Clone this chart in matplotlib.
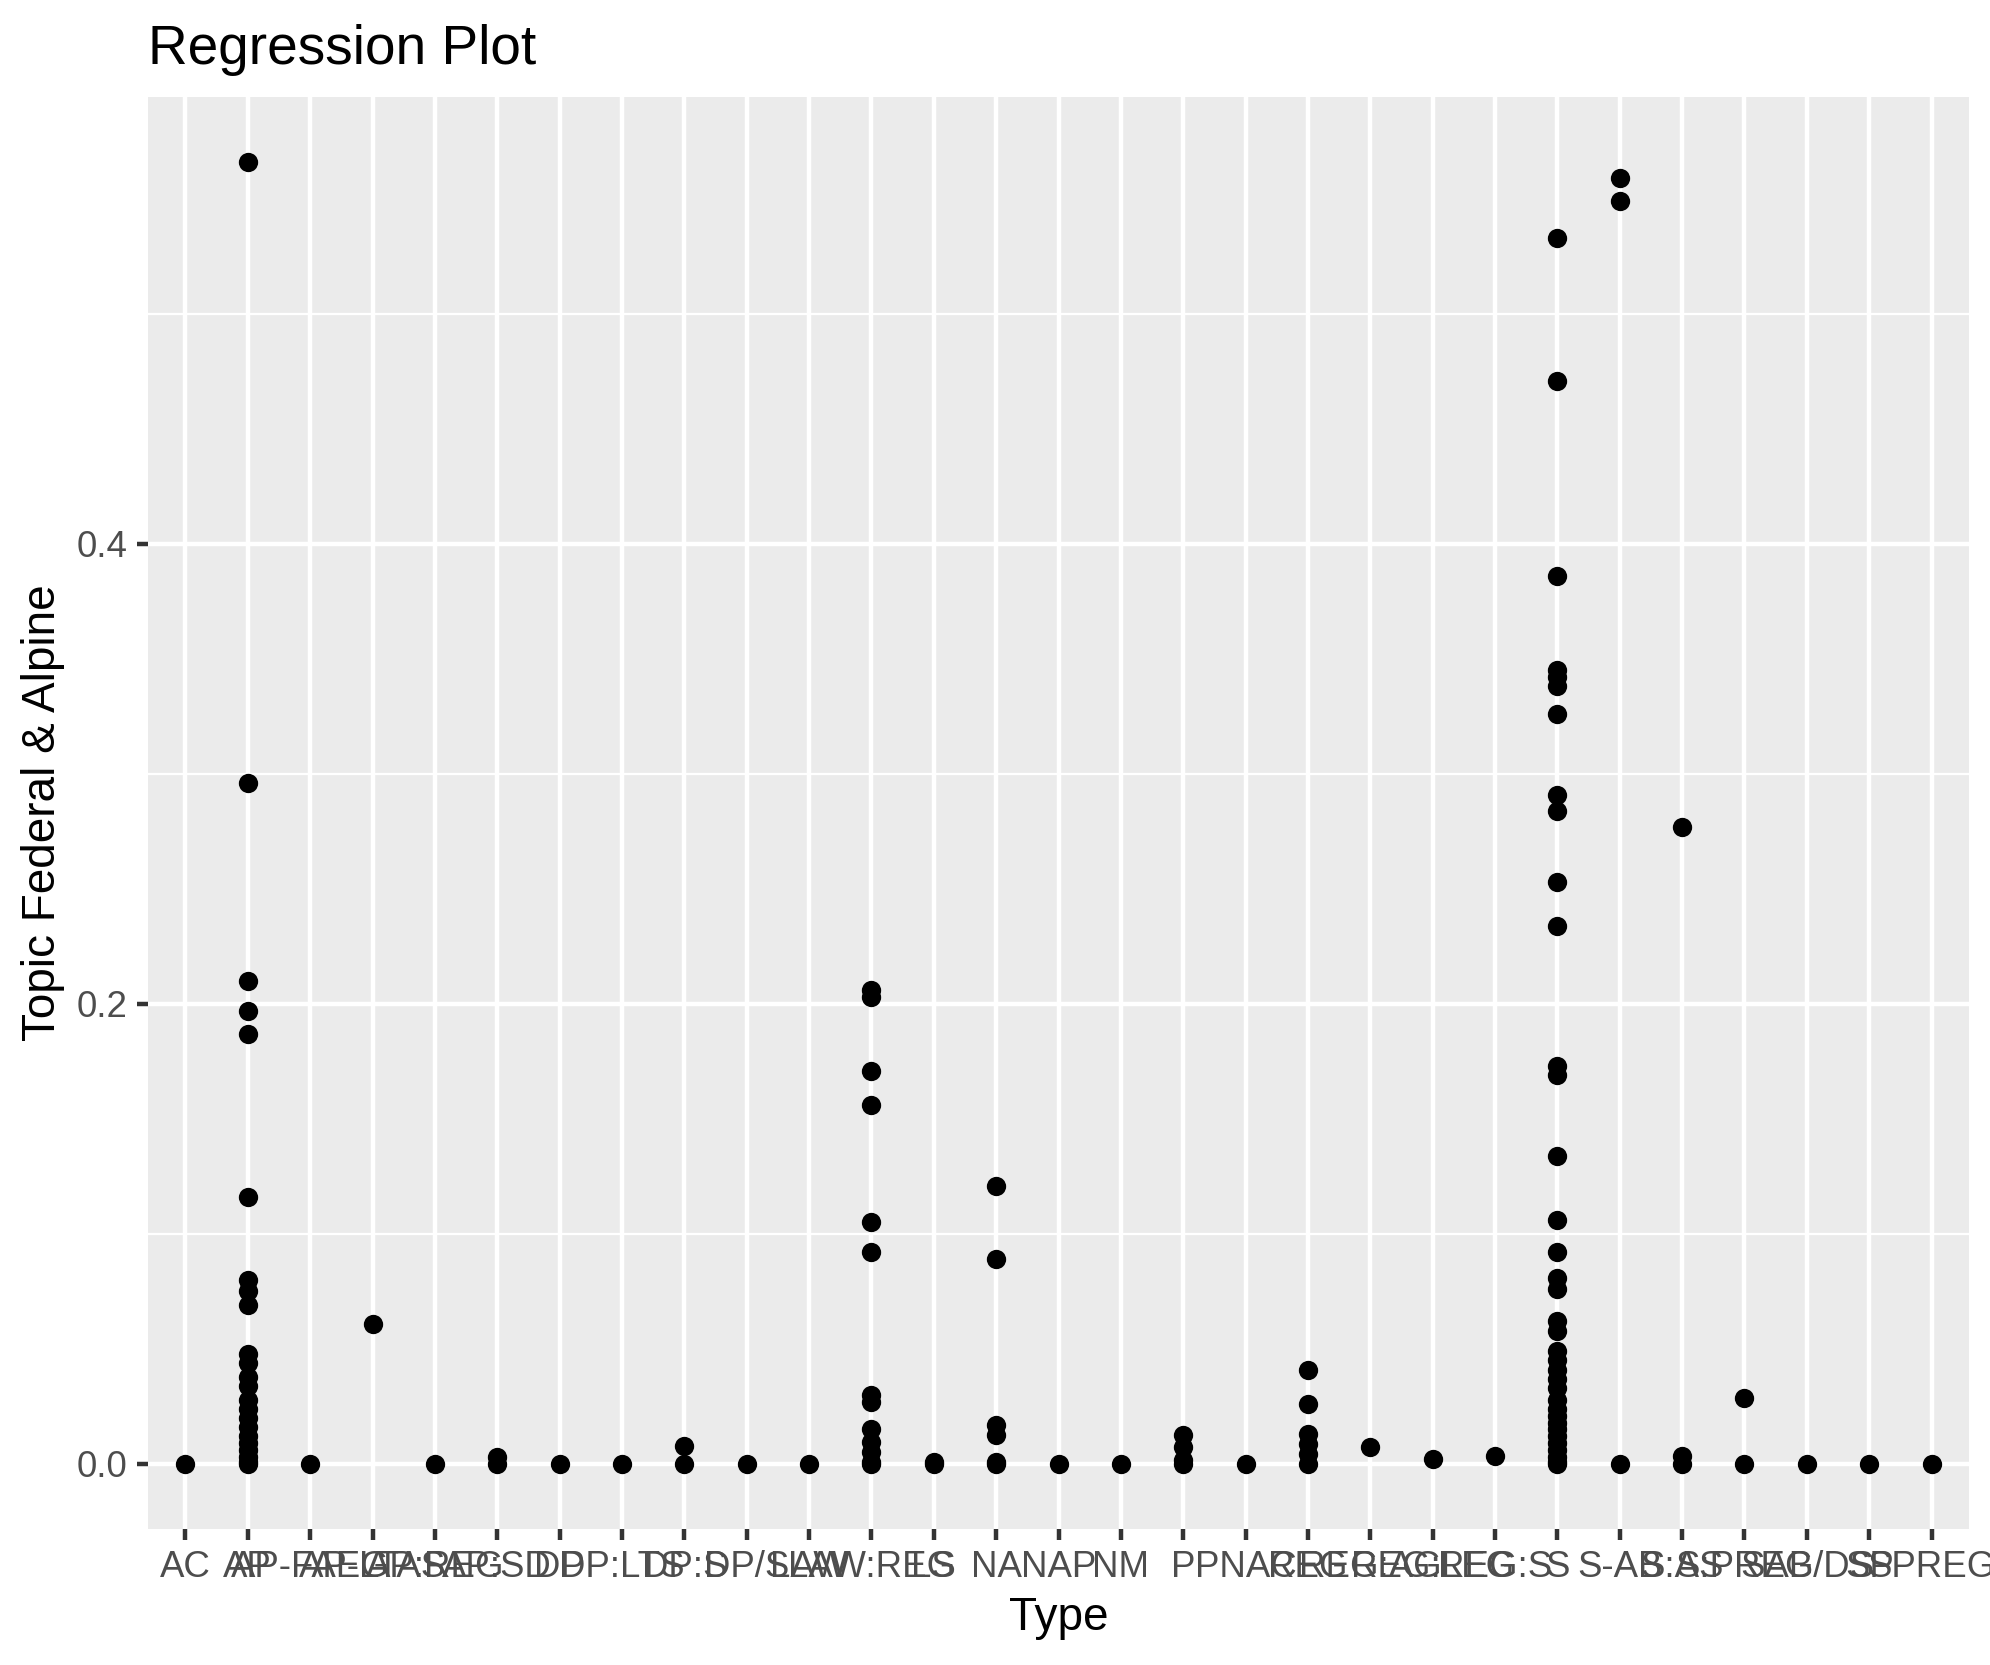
import matplotlib
matplotlib.use("Agg")
import matplotlib.pyplot as plt
from matplotlib.ticker import FixedLocator

plt.rcParams['font.family'] = ['Liberation Sans', 'DejaVu Sans']

# ---- data ----
type_labels = ["AC", "AP", "AP-FAEG", "AP-LTAS", "AP:REG", "AP:SD", "DP", "DP:LTS",
               "DP:S", "DP/S", "LAW", "LAW:REG", "LS", "NA", "NAP", "NM", "P", "PNAC",
               "REG", "REG:AG", "REG:LEG", "REG:S", "S", "S-AB", "S:AS", "S:PREG",
               "SAB/DS", "SP", "SPREG"]

topic_values = [
    [0.0],                                                          # AC
    [0.566, 0.296, 0.210, 0.197, 0.187, 0.116, 0.080, 0.075, 0.069,
     0.048, 0.044, 0.038, 0.034, 0.028, 0.024, 0.020, 0.016, 0.012,
     0.009, 0.006, 0.003, 0.001, 0.0],                              # AP
    [0.0],
    [0.061],
    [0.0],
    [0.003, 0.0],
    [0.0],
    [0.0],
    [0.008, 0.0],
    [0.0],
    [0.0],
    [0.206, 0.203, 0.171, 0.156, 0.105, 0.092, 0.030, 0.027, 0.015,
     0.0095, 0.005, 0.001, 0.0],
    [0.0007, 0.0],
    [0.121, 0.089, 0.0167, 0.0125, 0.001, 0.0],
    [0.0],
    [0.0],
    [0.0125, 0.0072, 0.0015, 0.0],
    [0.0],
    [0.041, 0.026, 0.013, 0.0087, 0.0043, 0.0],
    [0.0072],
    [0.0022],
    [0.0036],
    [0.533, 0.471, 0.386, 0.345, 0.342, 0.338, 0.326, 0.291, 0.284,
     0.253, 0.234, 0.173, 0.169, 0.134, 0.106, 0.092, 0.081, 0.076,
     0.062, 0.058, 0.049, 0.045, 0.041, 0.037, 0.033, 0.028, 0.024,
     0.021, 0.018, 0.015, 0.012, 0.009, 0.006, 0.003, 0.001, 0.0],  # S
    [0.559, 0.549, 0.0],
    [0.277, 0.0036, 0.0],
    [0.0286, 0.0],
    [0.0],
    [0.0],
    [0.0],
]

y_major = [0.0, 0.2, 0.4]
y_minor = [0.1, 0.3, 0.5]

# ---- figure ----
W, H, DPI = 1990, 1665, 300
fig = plt.figure(figsize=(W / DPI, H / DPI), dpi=DPI)
L, R, T, B = 148, 1969, 97, 1529
ax = fig.add_axes([L / W, 1 - B / H, (R - L) / W, (B - T) / H])
ax.set_facecolor('#EBEBEB')
for s in ax.spines.values():
    s.set_visible(False)

xs, ys = [], []
for i, vals in enumerate(topic_values):
    for v in vals:
        xs.append(i)
        ys.append(v)

ax.scatter(xs, ys, s=21.5, color='black', linewidths=0, zorder=3)

allv = [v for vals in topic_values for v in vals]
lo, hi = min(allv), max(allv)
rng = hi - lo
ax.set_ylim(lo - 0.05 * rng, hi + 0.05 * rng)
ax.set_xlim(-0.6, len(type_labels) - 1 + 0.6)

ax.set_xticks(range(len(type_labels)))
ax.set_xticklabels(type_labels)
ax.yaxis.set_major_locator(FixedLocator(y_major))
ax.set_yticklabels([f"{v:.1f}" for v in y_major])
ax.yaxis.set_minor_locator(FixedLocator(y_minor))

ax.grid(which='major', color='white', linewidth=1.07)
ax.grid(which='minor', axis='y', color='white', linewidth=0.53)
ax.set_axisbelow(True)
ax.tick_params(which='major', length=2.75, width=1.07, color='#333333',
               pad=2.2, labelsize=8.8, labelcolor='#4D4D4D')
ax.tick_params(which='minor', length=0)

ax.set_xlabel('Type', fontsize=11, color='black', labelpad=2.75)
ax.set_ylabel('Topic Federal & Alpine', fontsize=11, color='black', labelpad=2.75)

fig.text(L / W, 1 - 64.5 / H, 'Regression Plot', fontsize=13.2, color='black',
         ha='left', va='baseline')

fig.savefig('out.png', dpi=DPI, facecolor='white')
